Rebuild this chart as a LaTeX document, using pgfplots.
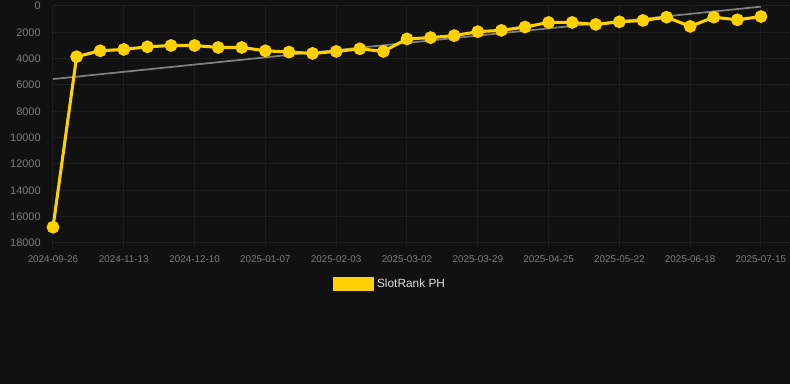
\documentclass[border=0pt]{standalone}
\usepackage{pgfplots}
\pgfplotsset{compat=1.18}
\usepackage{fontspec}
\setmainfont{Liberation Sans}
\definecolor{bg}{HTML}{111111}
\definecolor{gridc}{HTML}{1E1E1E}
\definecolor{tickc}{HTML}{7C7C7C}
\definecolor{legc}{HTML}{DDDDDD}
\definecolor{gold}{HTML}{FFD100}
\definecolor{trend}{HTML}{808080}
\begin{document}
\begin{tikzpicture}[x=0.75pt,y=0.75pt]
\fill[bg] (0,0) rectangle (790,384);
\useasboundingbox (0,0) rectangle (790,384);
\begin{axis}[
  at={(39.75pt,105.75pt)}, anchor=south west,
  scale only axis,
  width=552.75pt, height=177.75pt,
  xmin=0, xmax=31.23,
  ymin=0, ymax=18000, y dir=reverse,
  xtick={0,3,...,30},
  xticklabels={2024-09-26,2024-11-13,2024-12-10,2025-01-07,2025-02-03,2025-03-02,2025-03-29,2025-04-25,2025-05-22,2025-06-18,2025-07-15},
  ytick={0,2000,...,18000},
  scaled y ticks=false,
  /pgf/number format/1000 sep={},
  /pgf/number format/assume math mode=true,
  grid=major,
  major grid style={draw=gridc, line width=0.75pt},
  axis line style={draw=none},
  x tick style={draw=gridc, line width=0.75pt},
  y tick style={draw=none},
  major tick length=3.75pt,
  tick align=outside,
  xtick pos=bottom, ytick pos=left,
  x tick label style={font=\fontsize{7.4pt}{8pt}\selectfont, text=tickc, yshift=-2pt},
  y tick label style={font=\fontsize{8.2pt}{9pt}\selectfont, text=tickc, xshift=-2pt},
  legend style={at={(0.4575,-0.173)}, anchor=center, draw=none, fill=none,
    text=legc, font=\fontsize{8.9pt}{10pt}\selectfont, inner sep=0pt},
  legend image code/.code={\fill[gold] (0pt,-4.2pt) rectangle (29pt,4pt);},
  legend cell align=left,
  clip=false,
]
\addplot[trend, line width=1.3pt, forget plot] coordinates {(0,5550) (30,50)};
\addplot[gold, line width=2.3pt, mark=*, mark size=3.6pt, mark options={fill=gold, draw=none}] coordinates {
(0,16800) (1,3850) (2,3400) (3,3300) (4,3100) (5,3000) (6,3000) (7,3150)
(8,3150) (9,3400) (10,3500) (11,3600) (12,3450) (13,3250) (14,3450)
(15,2500) (16,2400) (17,2250) (18,1950) (19,1850) (20,1600) (21,1250)
(22,1250) (23,1400) (24,1200) (25,1100) (26,850) (27,1550) (28,850)
(29,1050) (30,800)};
\addlegendentry{SlotRank PH}
\end{axis}
\end{tikzpicture}
\end{document}
